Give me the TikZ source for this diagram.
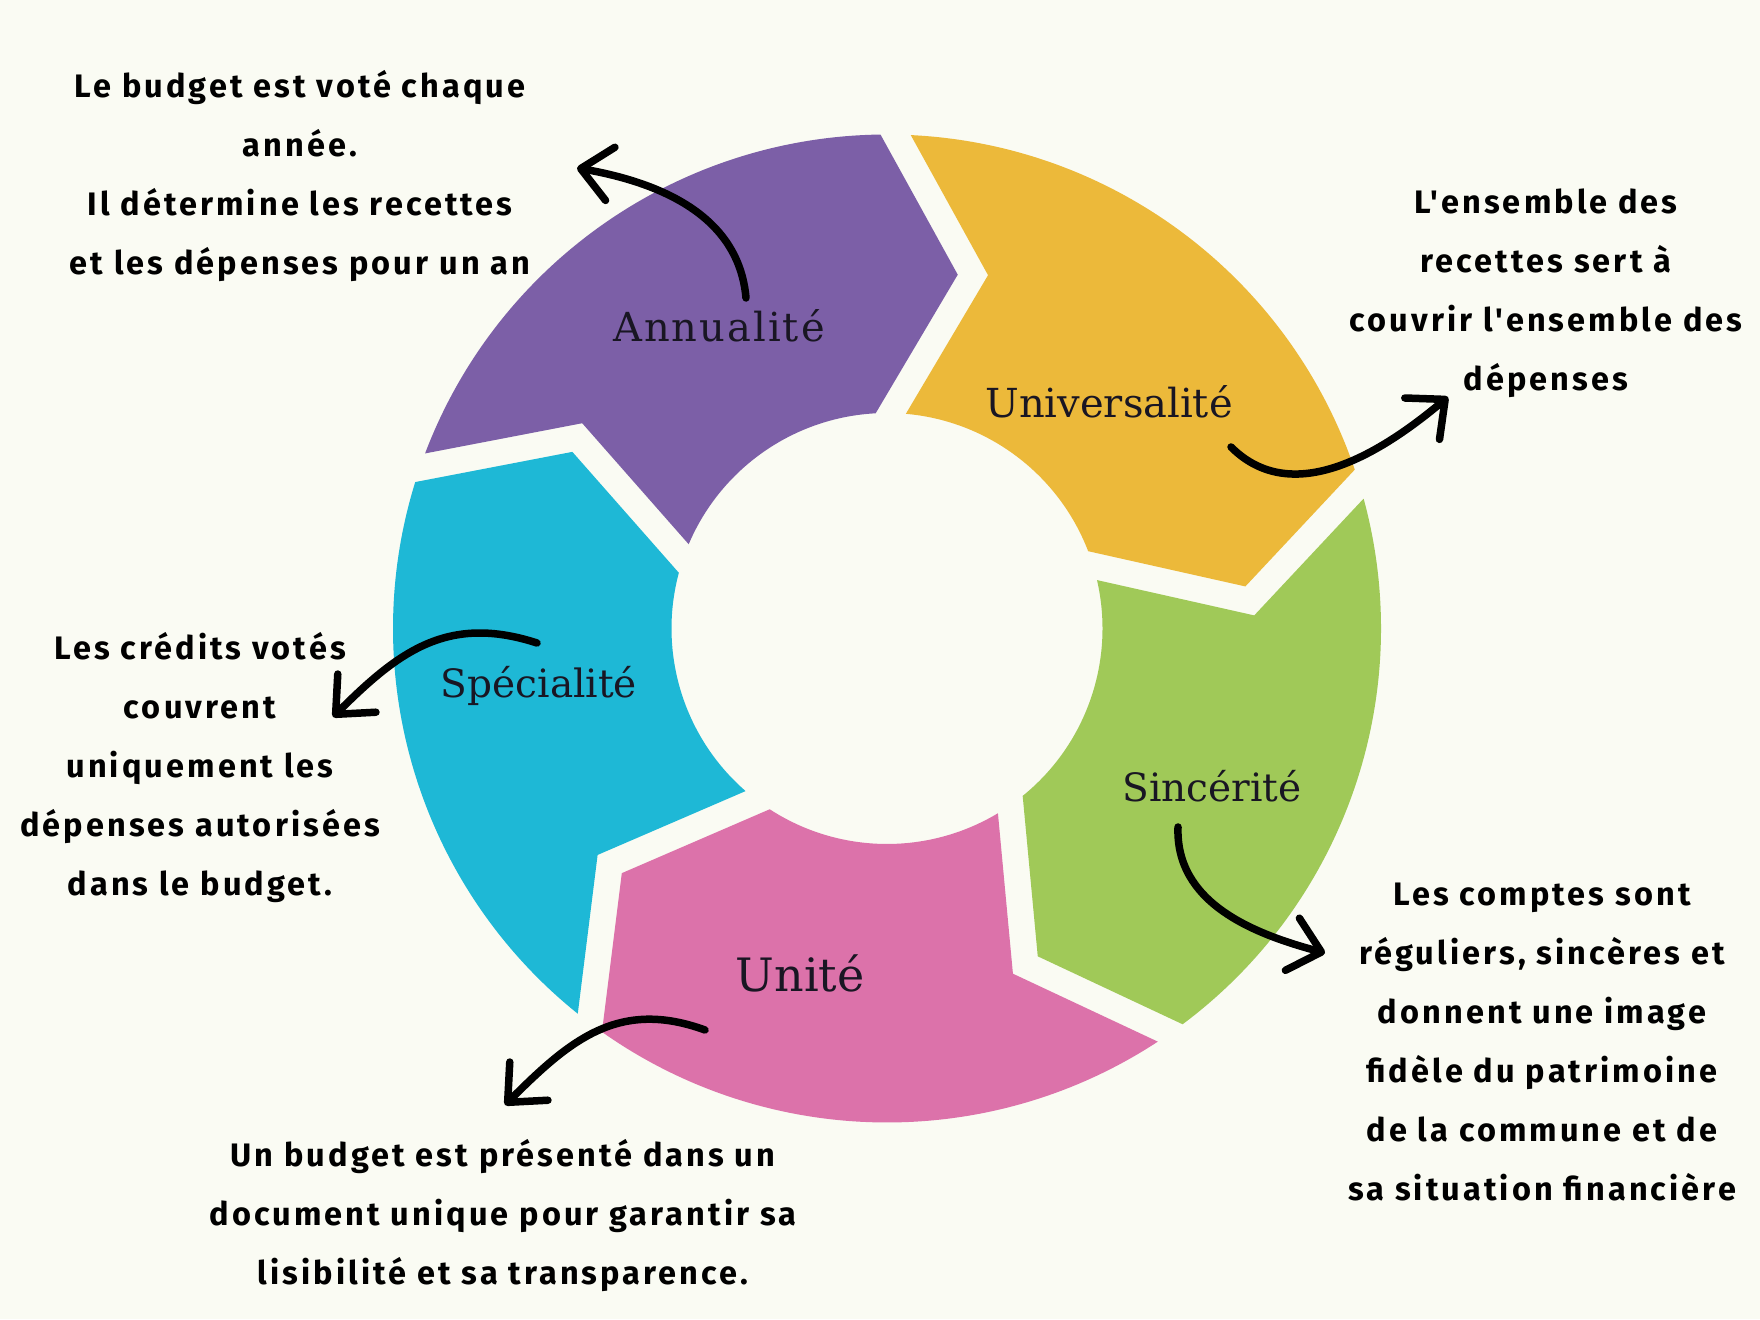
\documentclass[tikz,border=0pt]{standalone}
\usepackage{fontspec}
\usetikzlibrary{calc,arrows.meta}
\newfontfamily\descfont[LetterSpace=9.5]{Fira Sans}
\newfontfamily\labfont{DejaVu Serif}
\newfontfamily\labfontA[LetterSpace=5]{DejaVu Serif}
\definecolor{bgc}{RGB}{250,251,243}
\definecolor{cpurple}{RGB}{124,95,167}
\definecolor{cyellow}{RGB}{236,185,58}
\definecolor{cgreen}{RGB}{160,201,88}
\definecolor{cpink}{RGB}{220,114,170}
\definecolor{ccyan}{RGB}{30,184,214}
\definecolor{txtc}{RGB}{25,22,35}
\newcommand\ringseg[2]{%
  \pgfmathsetmacro\ta{#1}%
  \pgfmathsetmacro\la{#1-72}%
  \fill[#2] ({\ta-1.757}:494) arc[start angle={\ta-1.757}, end angle={\la+1.757}, radius=494]
     -- ($(\la:355)+({\la-90}:64.55)$) -- ({\la+4.02}:215.5)
     arc[start angle={\la+4.02}, end angle={\ta-4.02}, radius=215.5]
     -- ($(\ta:355)+({\ta-90}:94.85)$) -- cycle;}
\begin{document}
\begin{tikzpicture}[x=1pt,y=1pt,
  desc/.style={font=\descfont\bfseries\fontsize{32.5}{59}\selectfont, align=center, text=black, inner sep=0pt},
  lab/.style={font=\labfont\fontsize{40}{48}\selectfont, text=txtc, inner sep=0pt},
  arr/.style={line width=7.5pt, line cap=round, -{Straight Barb[length=30pt,width=54pt,round]}}]
\useasboundingbox (0,0) rectangle (1760,1319);
\fill[bgc] (0,0) rectangle (1760,1319);
\begin{scope}[shift={(887,690.5)}]
  \ringseg{161}{cpurple}
  \ringseg{89}{cyellow}
  \ringseg{17}{cgreen}
  \ringseg{-55}{cpink}
  \ringseg{-127}{ccyan}
\end{scope}
% segment labels
\node[lab, font=\labfontA\fontsize{40}{48}\selectfont] (lAnn) at (719,993.5) {Annualité};
\node[lab] (lUni) at (1109,917) {Universalité};
\node[lab, font=\labfont\fontsize{39}{48}\selectfont] (lSpe) at (539,633) {Spécialité};
\node[lab, font=\labfont\fontsize{39}{48}\selectfont] (lSin) at (1212,533) {Sincérité};
\node[lab, font=\labfont\fontsize{46}{54}\selectfont] (lUnt) at (800,346) {Unité};
% descriptions
\node[desc] (dAnn) at (300,1143) {Le budget est voté chaque\\année.\\Il détermine les recettes\\et les dépenses pour un an};
\node[desc] (dUni) at (1546,1026) {L'ensemble des\\recettes sert à\\couvrir l'ensemble des\\dépenses};
\node[desc] (dSpe) at (200,551.5) {Les crédits votés\\couvrent\\uniquement les\\dépenses autorisées\\dans le budget.};
\node[desc] (dUnt) at (503,103.5) {Un budget est présenté dans un\\document unique pour garantir sa\\lisibilité et sa transparence.};
\node[desc] (dSin) at (1542,276.5) {Les comptes sont\\réguliers, sincères et\\donnent une image\\fidèle du patrimoine\\de la commune et de\\sa situation financière};
% arrow end points
\coordinate (aAs) at (746,1021);
\coordinate (aAe) at (577,1151);
\coordinate (aUs) at (1231,872);
\coordinate (aUe) at (1448,922);
\coordinate (aSs) at (537,676);
\coordinate (aSe) at (333,602);
\coordinate (aTs) at (705,289);
\coordinate (aTe) at (505,214);
\coordinate (aIs) at (1178,492);
\coordinate (aIe) at (1325,366);
\draw[arr] (aAs) to[out=95,in=-10] (aAe);
\draw[arr] (aUs) to[out=-45,in=220] (aUe);
\draw[arr] (aSs) to[out=162,in=45,looseness=1.1] (aSe);
\draw[arr] (aTs) to[out=160,in=45,looseness=1.1] (aTe);
\draw[arr] (aIs) to[out=-92,in=165] (aIe);
\end{tikzpicture}
\end{document}
